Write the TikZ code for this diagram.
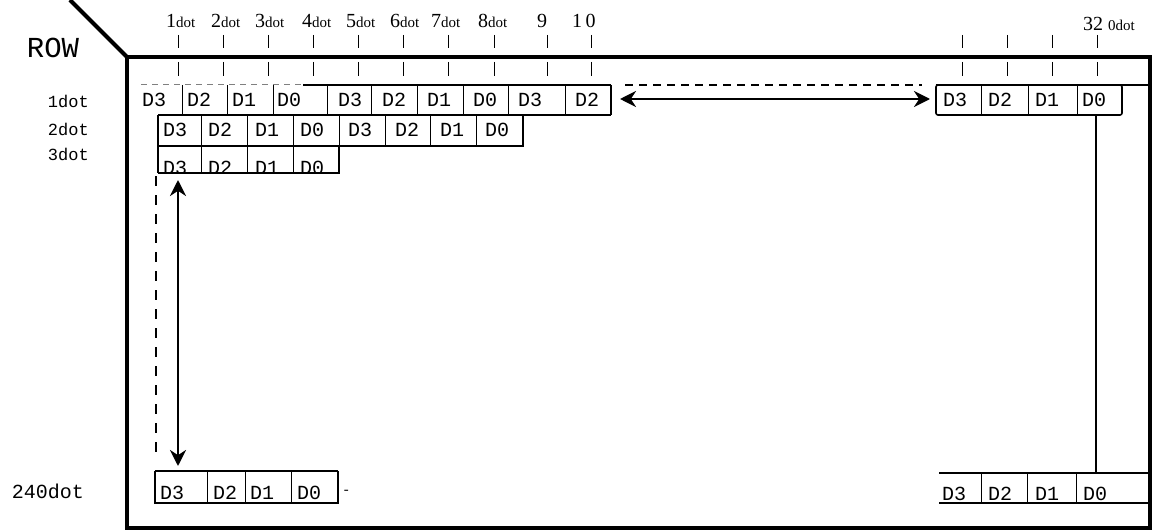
\documentclass[tikz,border=0pt]{standalone}
\usepackage{fontspec}
\setmainfont{Liberation Serif}
\newfontfamily\monofam{Liberation Mono}
\usetikzlibrary{arrows.meta}
\newcommand\smdot{{\fontsize{15}{15}\selectfont dot}}
\begin{document}
\begin{tikzpicture}[x=1pt,y=-1pt,
  frame/.style={line width=4pt},
  thickline/.style={line width=2.4pt},
  cellline/.style={line width=1.6pt},
  sepline/.style={line width=0.9pt},
  tickline/.style={line width=1pt},
  dbl/.style={line width=2.6pt,{Stealth[length=16pt,width=16pt]}-{Stealth[length=16pt,width=16pt]}},
  dsh/.style={line width=1.2pt,dash pattern=on 8pt off 6pt},
  cell/.style={font=\monofam\fontsize{20}{20}\selectfont,anchor=west,inner sep=0pt},
  rowlab/.style={font=\monofam\fontsize{17}{17}\selectfont,anchor=east,inner sep=0pt},
  toplab/.style={font=\fontsize{20}{20}\selectfont,anchor=base west,inner sep=0pt}]
\useasboundingbox (0,0) rectangle (1154,532);
% frame
\draw[frame] (127,57) rectangle (1150,528);
\draw[frame] (70,0) -- (127,57);
% row labels
\node[font=\monofam\fontsize{29}{29}\selectfont,inner sep=0pt] (lrow) at (53,48) {ROW};
\node[rowlab] (l1) at (89,101) {1dot};
\node[rowlab] (l2) at (89,129) {2dot};
\node[rowlab] (l3) at (89,154) {3dot};
\node[rowlab,font=\monofam\fontsize{20}{20}\selectfont] (l240) at (84,491) {240dot};
% ticks
\foreach \x in {178,223,268,313,358,403,448,494,547,591,962,1007,1052,1097}{
  \draw[tickline] (\x,35) -- (\x,48);
  \draw[tickline] (\x,62) -- (\x,76);
}
% top labels
\node[toplab] (t1) at (166,28) {1\smdot};
\node[toplab] (t2) at (211,28) {2\smdot};
\node[toplab] (t3) at (255,28) {3\smdot};
\node[toplab] (t4) at (302,28) {4\smdot};
\node[toplab] (t5) at (346,28) {5\smdot};
\node[toplab] (t6) at (390,28) {6\smdot};
\node[toplab] (t7) at (431,28) {7\smdot};
\node[toplab] (t8) at (478,28) {8\smdot};
\node[toplab] (t9) at (537,28) {9};
\node[toplab] (t10) at (572,28) {1\,0};
\node[toplab] (t32) at (1083,31) {32\ {\fontsize{15}{15}\selectfont 0dot}};
% row 1
\draw[line width=1pt,gray,dash pattern=on 6pt off 5pt] (141,85) -- (303,85);
\draw[thickline] (303,85) -- (611,85);
\draw[thickline] (158,115) -- (611,115);
\draw[cellline] (611,85) -- (611,115);
\foreach \x in {182,227,273,327,371,417,463,508,565}{\draw[sepline] (\x,85) -- (\x,115);}
\foreach \x/\t/\n in {142/D3/a1,187/D2/a2,232/D1/a3,277/D0/a4,338/D3/a5,382/D2/a6,427/D1/a7,473/D0/a8,518/D3/a9,575/D2/a10}{
  \node[cell] (r1\n) at (\x,100) {\t};}
% row 2
\draw[cellline] (158,115) -- (158,173);
\draw[cellline] (158,146) -- (523,146) -- (523,115);
\foreach \x in {201,247,293,339,385,430,476}{\draw[sepline] (\x,115) -- (\x,146);}
\foreach \x/\t/\n in {163/D3/a1,208/D2/a2,255/D1/a3,300/D0/a4,348/D3/a5,395/D2/a6,440/D1/a7,485/D0/a8}{
  \node[cell] (r2\n) at (\x,130) {\t};}
% row 3
\draw[cellline] (158,173) -- (339,173) -- (339,146);
\foreach \x in {201,247,293}{\draw[sepline] (\x,146) -- (\x,173);}
\begin{scope}
\clip (158,146) rectangle (339,172);
\foreach \x/\t/\n in {163/D3/a1,208/D2/a2,255/D1/a3,300/D0/a4}{
  \node[cell] (r3\n) at (\x,168) {\t};}
\end{scope}
% right row 1
\draw[cellline,rounded corners=2pt] (936,85) rectangle (1122,115);
\draw[thickline] (936,85) -- (1150,85);
\foreach \x in {981,1028,1077}{\draw[sepline] (\x,85) -- (\x,115);}
\foreach \x/\t/\n in {943/D3/a1,988/D2/a2,1035/D1/a3,1082/D0/a4}{
  \node[cell] (rr\n) at (\x,100) {\t};}
\coordinate (vtop) at (1096,115);
\coordinate (vbot) at (1096,473);
\draw[cellline] (vtop) -- (vbot);
% bottom-left row
\draw[thickline] (155,471) -- (338,471);
\draw[cellline] (155,471) -- (155,503) -- (338,503) -- (338,471);
\foreach \x in {207,245,291}{\draw[sepline] (\x,471) -- (\x,503);}
\foreach \x/\t/\n in {160/D3/a1,213/D2/a2,250/D1/a3,297/D0/a4}{
  \node[cell] (bl\n) at (\x,493) {\t};}
\node[cell,font=\monofam\fontsize{14}{14}\selectfont] (bldash) at (342,492) {-};
% bottom-right row
\draw[cellline] (939,473) -- (1150,473);
\draw[cellline] (939,503) -- (1150,503);
\foreach \x in {981,1027,1076}{\draw[sepline] (\x,473) -- (\x,503);}
\foreach \x/\t/\n in {942/D3/a1,988/D2/a2,1035/D1/a3,1083/D0/a4}{
  \node[cell] (br\n) at (\x,494) {\t};}
% arrows
\coordinate (hl) at (620,99);
\coordinate (hr) at (930,99);
\draw[dbl] (hl) -- (hr);
\coordinate (hdl) at (625,85);
\coordinate (hdr) at (922,85);
\draw[dsh] (hdl) -- (hdr);
\coordinate (vt) at (178,180);
\coordinate (vb) at (178,466);
\draw[dbl] (vt) -- (vb);
\coordinate (vdt) at (156,176);
\coordinate (vdb) at (156,457);
\draw[dsh,line width=1.4pt,dash pattern=on 10pt off 9pt] (vdt) -- (vdb);
\end{tikzpicture}
\end{document}
